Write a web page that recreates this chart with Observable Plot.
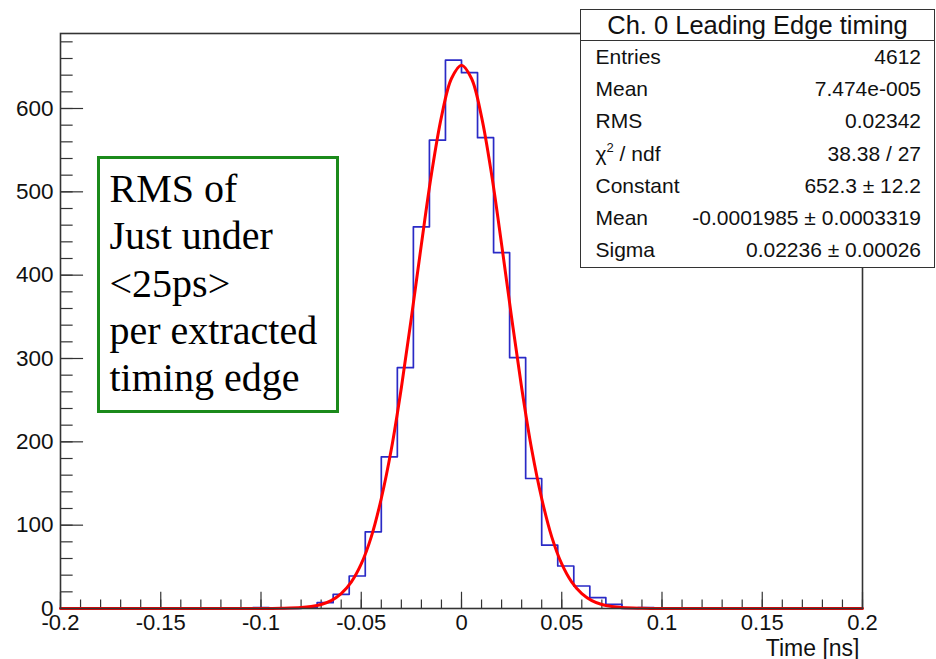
<!DOCTYPE html>
<html>
<head>
<meta charset="utf-8">
<script src="https://cdn.jsdelivr.net/npm/d3@7"></script>
<script src="https://cdn.jsdelivr.net/npm/@observablehq/plot@0.6"></script>
<style>
html, body { margin: 0; padding: 0; background: #fff; }
#wrap { position: relative; width: 936px; height: 659px; overflow: hidden; background: #fff; }
#stats { position: absolute; left: 580px; top: 9px; width: 355px; height: 259px; box-sizing: border-box;
  border: 1.5px solid #333; background: #fff; font-family: "Liberation Sans", Arial, sans-serif; color: #111; }
#stats .title { height: 30px; line-height: 30px; font-size: 25.5px; text-align: center; border-bottom: 1.5px solid #333; white-space: nowrap; }
#stats .row { height: 32.2px; line-height: 32.2px; font-size: 21px; display: flex; justify-content: space-between;
  padding: 0 13px 0 14.5px; white-space: nowrap; }
#stats sup { font-size: 13px; line-height: 0; position: relative; top: -1px; }
#note { position: absolute; left: 97px; top: 156px; width: 242px; height: 257px; box-sizing: border-box;
  border: 3px solid #1b8a1b; background: #fff; padding: 6px 0 0 9.5px;
  font-family: "Liberation Serif", "Times New Roman", serif; font-size: 40px; line-height: 47.3px; color: #000; white-space: nowrap; }
</style>
</head>
<body>
<div id="wrap"></div>
<script>
// ---- data ----
const xMin = -0.2, xMax = 0.2, binWidth = 0.008;          // histogram binning (50 bins)
const counts = [
  0, 0, 0, 0, 0, 0, 0, 0, 0, 0,
  0, 0, 1, 0, 0, 1, 7, 17, 39, 92,
  182, 289, 458, 562, 658, 643, 565, 427, 301, 156,
  76, 51, 27, 13, 5, 0, 1, 0, 0, 0,
  0, 0, 0, 0, 0, 0, 0, 0, 0, 0
];
// red Gaussian fit curve
const fitX = [-0.2, -0.1, -0.09, -0.08, -0.075, -0.07, -0.065, -0.06, -0.055, -0.05, -0.045, -0.04, -0.035, -0.03, -0.025, -0.02, -0.015, -0.01, -0.005, 0,
              0.005, 0.01, 0.015, 0.02, 0.025, 0.03, 0.035, 0.04, 0.045, 0.05, 0.055, 0.06, 0.065, 0.07, 0.075, 0.08, 0.09, 0.1, 0.2];
const fitY = [0, 0, 0.3, 1.1, 2.4, 4.8, 9.5, 17.8, 31.7, 53.5, 86, 132, 191, 265, 349, 437, 521, 590, 636, 652,
              636, 590, 521, 437, 349, 265, 191, 132, 86, 53.5, 31.7, 17.8, 9.5, 4.8, 2.4, 1.1, 0.3, 0, 0];
const xTicks = [-0.2, -0.15, -0.1, -0.05, 0, 0.05, 0.1, 0.15, 0.2];
const xTickLabels = ["-0.2", "-0.15", "-0.1", "-0.05", "0", "0.05", "0.1", "0.15", "0.2"];
const yTicks = [0, 100, 200, 300, 400, 500, 600];
const yTickLabels = ["0", "100", "200", "300", "400", "500", "600"];
const xLabel = "Time [ns]";
const statsTitle = "Ch. 0 Leading Edge timing";
const statLabels = ["Entries", "Mean", "RMS", "χ<sup>2</sup> / ndf", "Constant", "Mean", "Sigma"];
const statValues = ["4612", "7.474e-005", "0.02342", "38.38 / 27", "652.3 ± 12.2", "-0.0001985 ± 0.0003319", "0.02236 ± 0.00026"];
const noteLines = ["RMS of", "Just under", "<25ps>", "per extracted", "timing edge"];

// ---- build tables ----
const edges = d3.range(counts.length + 1).map(i => +(xMin + i * binWidth).toFixed(4));
const histPts = counts.map((c, i) => ({x: edges[i], y: c})).concat([{x: edges[counts.length], y: counts[counts.length - 1]}]);
const fitPts = fitX.map((x, i) => ({x, y: fitY[i]}));
const xMinor = d3.range(0, 41).map(i => +(xMin + i * 0.01).toFixed(3));
const yMinor = d3.range(0, 35).map(i => i * 20);

const axisColor = "#333";
const chart = Plot.plot({
  width: 936,
  height: 659,
  marginLeft: 60,
  marginRight: 74,
  marginTop: 33,
  marginBottom: 51,
  style: {fontFamily: "'Liberation Sans', Arial, sans-serif", background: "white", color: "#111"},
  x: {domain: [xMin, xMax], axis: null},
  y: {domain: [0, 690], axis: null},
  marks: [
    Plot.ruleX(xMinor, {y1: 0, y2: 10.2, stroke: axisColor, strokeWidth: 1.2}),
    Plot.ruleX(xTicks, {y1: 0, y2: 19.5, stroke: axisColor, strokeWidth: 1.2}),
    Plot.ruleY(yMinor, {x1: xMin, x2: xMin + 0.0063, stroke: axisColor, strokeWidth: 1.2}),
    Plot.ruleY(yTicks, {x1: xMin, x2: xMin + 0.0115, stroke: axisColor, strokeWidth: 1.2}),
    Plot.line(histPts, {x: "x", y: "y", curve: "step-after", stroke: "#2a2ac6", strokeWidth: 1.7}),
    Plot.line(fitPts, {x: "x", y: "y", curve: "catmull-rom", stroke: "#ff0000", strokeWidth: 3}),
    Plot.frame({stroke: axisColor, strokeWidth: 1.6}),
    Plot.axisX(xTicks, {tickSize: 0, tickPadding: 6, fontSize: 22, label: null,
      tickFormat: d => xTickLabels[xTicks.indexOf(d)], fill: "#111"}),
    Plot.axisY(yTicks, {tickSize: 0, tickPadding: 7, fontSize: 22.5, label: null,
      tickFormat: d => yTickLabels[yTicks.indexOf(d)], fill: "#111"}),
    Plot.text([xLabel], {frameAnchor: "bottom-right", text: d => d, dx: -3, dy: 47, lineAnchor: "bottom",
      textAnchor: "end", fontSize: 23, fill: "#111"})
  ]
});

const wrap = document.getElementById("wrap");
wrap.appendChild(chart);

const stats = document.createElement("div");
stats.id = "stats";
let html = `<div class="title">${statsTitle}</div>`;
statLabels.forEach((l, i) => { html += `<div class="row"><span>${l}</span><span>${statValues[i]}</span></div>`; });
stats.innerHTML = html;
wrap.appendChild(stats);

const note = document.createElement("div");
note.id = "note";
noteLines.forEach(t => { const d = document.createElement("div"); d.textContent = t; note.appendChild(d); });
wrap.appendChild(note);
</script>
</body>
</html>
